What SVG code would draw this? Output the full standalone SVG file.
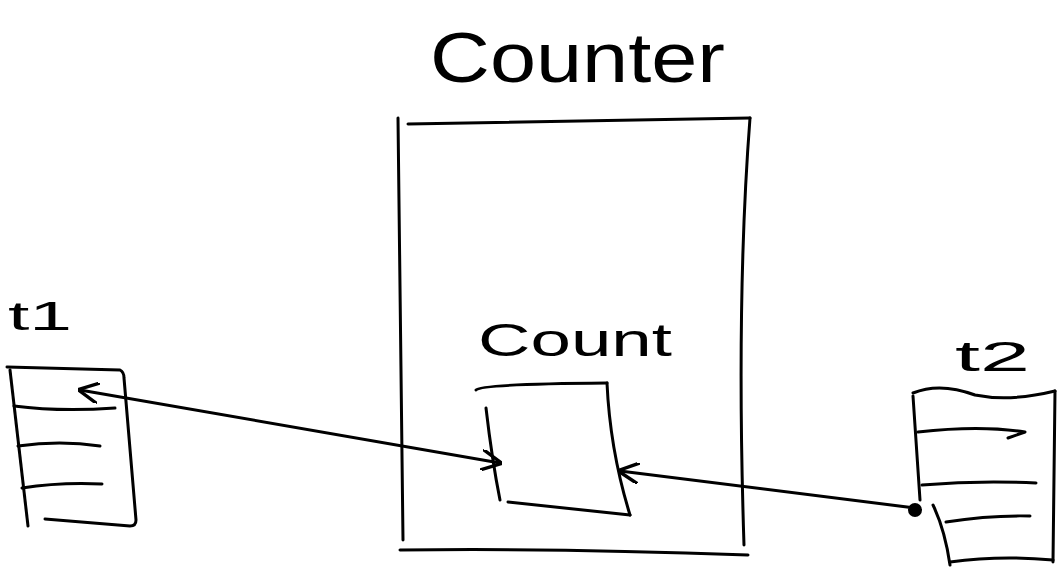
<svg xmlns="http://www.w3.org/2000/svg" width="1057" height="574" viewBox="0 0 1057 574">
<defs>
<style>
.s{fill:none;stroke:#000;stroke-width:3;stroke-linecap:round;stroke-linejoin:round}
.t{font-family:"Liberation Sans","DejaVu Sans",sans-serif;fill:#000}
</style>
<marker id="ah" viewBox="0 0 10 10" refX="9" refY="5" markerWidth="7" markerHeight="7" orient="auto-start-reverse">
<path d="M0,0 L10,5 L0,10" fill="none" stroke="#000" stroke-width="1.6"/>
</marker>
</defs>
<rect width="1057" height="574" fill="#fff"/>
<g id="counter">
<text class="t" x="430" y="82" font-size="70" textLength="295" lengthAdjust="spacingAndGlyphs">Counter</text>
<path class="s" d="M398,118 Q401,330 403,540"/>
<path class="s" d="M408,124 L750,118"/>
<path class="s" d="M750,118 Q736,300 744,545"/>
<path class="s" d="M400,550 Q560,548 748,555"/>
</g>
<g id="count">
<text class="t" x="478" y="356" font-size="46" textLength="194" lengthAdjust="spacingAndGlyphs">Count</text>
<path class="s" d="M476,390 Q480,384 607,383"/>
<path class="s" d="M607,383 Q610,450 630,515"/>
<path class="s" d="M508,502 L630,515"/>
<path class="s" d="M486,408 Q492,460 500,500"/>
</g>
<g id="t1">
<text class="t" x="8" y="330" font-size="40" textLength="64" lengthAdjust="spacingAndGlyphs">t1</text>
<path class="s" d="M7,367 L120,370 Q124,372 124,378 L136,520 Q136,526 130,526 L45,519"/>
<path class="s" d="M10,370 L28,526"/>
<path class="s" d="M14,406 Q60,412 115,408"/>
<path class="s" d="M18,446 Q60,440 100,446"/>
<path class="s" d="M22,488 Q60,482 102,484"/>
</g>
<g id="t2">
<text class="t" x="955" y="371" font-size="42" textLength="75" lengthAdjust="spacingAndGlyphs">t2</text>
<path class="s" d="M913,393 Q940,382 975,395 Q1010,402 1055,391"/>
<path class="s" d="M913,396 L920,500"/>
<path class="s" d="M933,505 Q945,530 950,565"/>
<path class="s" d="M1055,391 L1053,562"/>
<path class="s" d="M950,562 Q1000,555 1053,560"/>
<path class="s" d="M918,432 Q980,425 1025,432 L1008,438"/>
<path class="s" d="M922,485 Q980,480 1036,483"/>
<path class="s" d="M946,522 Q990,515 1030,516"/>
</g>
<g id="connectors">
<path class="s" d="M80,390 L500,463" marker-start="url(#ah)" marker-end="url(#ah)"/>
<path class="s" d="M915,508 L620,471" marker-end="url(#ah)"/>
<circle cx="915" cy="510" r="7" fill="#000"/>
</g>
</svg>
